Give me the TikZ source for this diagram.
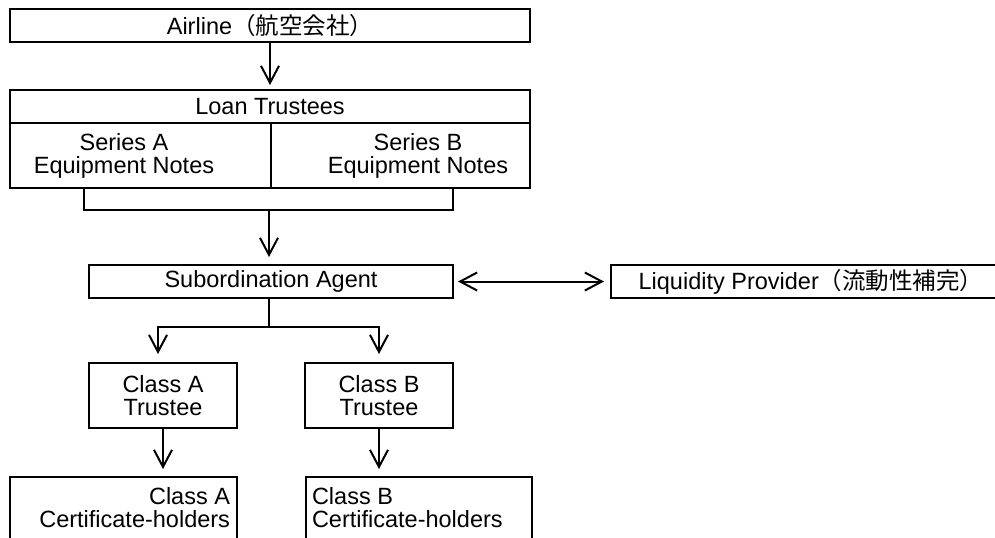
\documentclass[tikz,border=0pt]{standalone}
\usepackage{fontspec}
\setmainfont{Liberation Sans}
\newfontfamily\cjk{Noto Sans CJK JP}
\usetikzlibrary{arrows.meta,calc}

\begin{document}
\begin{tikzpicture}[x=0.5pt,y=-0.5pt,
  font=\fontsize{11.75pt}{11.5pt}\selectfont,
  box/.style={draw, line width=0.6pt, rectangle, inner sep=0pt, outer sep=0pt, align=center},
  label/.style={inner sep=0pt, outer sep=0pt},
  link/.style={line width=1pt},
  arr/.style={line width=1pt, -{Straight Barb[length=8.5pt,width=9pt,line width=1pt]}},
  darr/.style={line width=1pt, {Straight Barb[length=8.5pt,width=9pt,line width=1pt]}-{Straight Barb[length=8.5pt,width=9pt,line width=1pt]}}]

  \useasboundingbox (0,0) rectangle (995,537);
  \fill[white] (0,0) rectangle (995,537);
  \clip (0,0) rectangle (995,537);

  % top: airline and loan trustees
  \node[box, minimum width=260pt, minimum height=16.5pt] (airline) at (270,25.5)
    {Airline{\cjk （航空会社）}};
  \node[box, minimum width=260pt, minimum height=16.5pt] (loan) at (270,106.5)
    {Loan Trustees};
  \node[box, minimum width=130.5pt, minimum height=32.5pt] (serA) at (140.5,155.5) {};
  \node[box, minimum width=129.5pt, minimum height=32.5pt] (serB) at (400.5,155.5) {};
  \node[label, align=center] (serAtxt) at (124,156) {Series A\\Equipment Notes};
  \node[label, align=center] (serBtxt) at (418,156) {Series B\\Equipment Notes};

  % middle: subordination agent and liquidity provider
  \node[box, minimum width=182pt, minimum height=16.5pt] (sub) at (271,281.5)
    {Subordination Agent};
  \node[box, minimum width=194.5pt, minimum height=16.5pt] (liq) at (805.5,281.5) {};
  \node[label] (liqtxt) at (811,281.5) {Liquidity Provider{\cjk （流動性補完）}};

  % trustees
  \node[box, minimum width=74pt, minimum height=32.5pt] (trA) at (163,395.5)
    {Class A\\Trustee};
  \node[box, minimum width=74pt, minimum height=32.5pt] (trB) at (379,395.5)
    {Class B\\Trustee};

  % certificate-holders (boxes run past the lower edge)
  \node[box, minimum width=113.5pt, minimum height=61.5pt] (chA) at (123.5,538.5) {};
  \node[box, minimum width=113pt, minimum height=61.5pt] (chB) at (419,538.5) {};
  \node[label, align=right, anchor=north east] (chAtxt) at (230,487)
    {Class A\\Certificate-holders};
  \node[label, align=left, anchor=north west] (chBtxt) at (312,487)
    {Class B\\Certificate-holders};

  % connectors
  \draw[arr, shorten >=2.5pt] (airline.south) -- (loan.north);

  \coordinate (bl) at (84,188);
  \coordinate (br) at (453,188);
  \coordinate (bj) at (269,210);
  \draw[link] (bl) |- (bj) -| (br);
  \draw[arr, shorten >=4pt] (bj) -- (bj |- sub.north);

  \coordinate (sj) at (269,327);
  \coordinate (tA) at (158,363);
  \coordinate (tB) at (379,363);
  \draw[link] (sub.south -| sj) -- (sj);
  \draw[arr, shorten >=4.5pt] (sj) -| (tA);
  \draw[arr, shorten >=4.5pt] (sj) -| (tB);

  \draw[darr, shorten <=2.5pt, shorten >=3.5pt] (sub.east) -- (liq.west);

  \draw[arr, shorten >=4pt] (trA.south) -- (trA.south |- chA.north);
  \draw[arr, shorten >=4pt] (trB.south) -- (trB.south |- chB.north);
\end{tikzpicture}
\end{document}
